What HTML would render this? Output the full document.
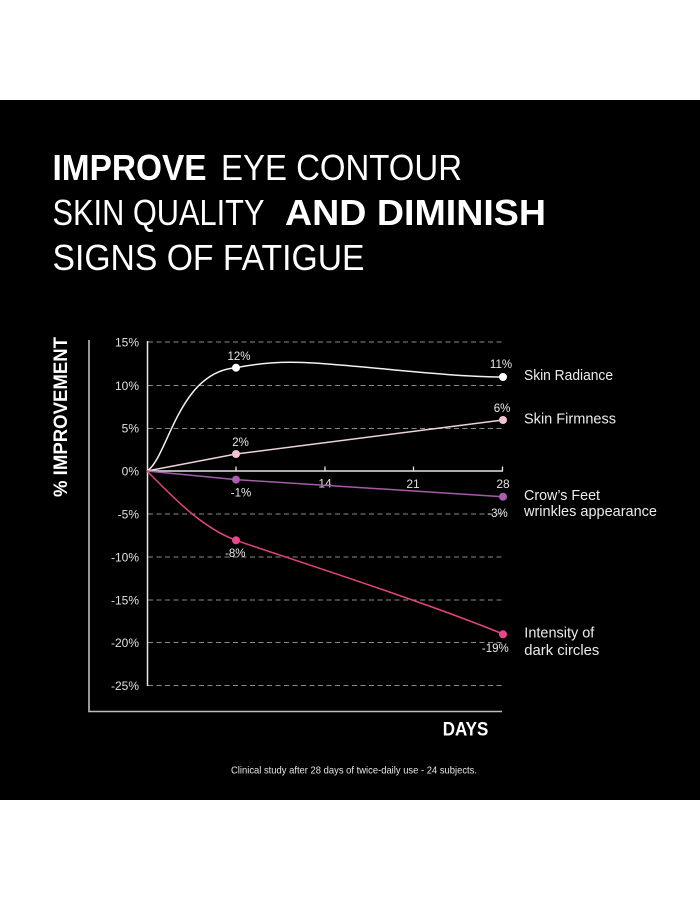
<!DOCTYPE html>
<html><head><meta charset="utf-8"><style>
html,body{margin:0;padding:0;background:#fff;}
svg{display:block;}
text{font-family:"Liberation Sans",Arial,sans-serif;}
</style></head><body>
<svg width="700" height="900" viewBox="0 0 700 900" xmlns="http://www.w3.org/2000/svg">
<rect x="0" y="0" width="700" height="900" fill="#fff"/>
<rect x="0" y="100" width="700" height="700" fill="#000"/>

<!-- Title -->
<g fill="#fff" font-size="36">
<text x="52.5" y="180" font-weight="bold" textLength="154" lengthAdjust="spacingAndGlyphs">IMPROVE</text>
<text x="221" y="180" textLength="241" lengthAdjust="spacingAndGlyphs">EYE CONTOUR</text>
<text x="52.5" y="225" textLength="212" lengthAdjust="spacingAndGlyphs">SKIN QUALITY</text>
<text x="285" y="225" font-weight="bold" textLength="261" lengthAdjust="spacingAndGlyphs">AND DIMINISH</text>
<text x="52.5" y="270" textLength="312" lengthAdjust="spacingAndGlyphs">SIGNS OF FATIGUE</text>
</g>

<!-- Y axis title -->
<text transform="translate(67,417) rotate(-90)" text-anchor="middle" fill="#fff" font-size="19" font-weight="bold" textLength="160" lengthAdjust="spacingAndGlyphs">% IMPROVEMENT</text>

<!-- frame -->
<path d="M89,340 V711.5 H502" fill="none" stroke="#bdbdbd" stroke-width="1.6"/>

<!-- gridlines -->
<g stroke="#8a8a8a" stroke-width="1" stroke-dasharray="5,3.5" fill="none">
<line x1="148" y1="342" x2="502" y2="342"/>
<line x1="148" y1="385.5" x2="502" y2="385.5"/>
<line x1="148" y1="428.5" x2="502" y2="428.5"/>
<line x1="148" y1="514" x2="502" y2="514"/>
<line x1="148" y1="557" x2="502" y2="557"/>
<line x1="148" y1="600" x2="502" y2="600"/>
<line x1="148" y1="642.5" x2="502" y2="642.5"/>
<line x1="148" y1="685.5" x2="502" y2="685.5"/>
</g>

<!-- axes -->
<line x1="147.5" y1="341" x2="147.5" y2="686" stroke="#e6e6e6" stroke-width="1.5"/>
<line x1="147" y1="471" x2="503" y2="471" stroke="#e6e6e6" stroke-width="1.5"/>
<g stroke="#e6e6e6" stroke-width="1.3">
<line x1="236" y1="471" x2="236" y2="466.5"/>
<line x1="325" y1="471" x2="325" y2="466.5"/>
<line x1="413.5" y1="471" x2="413.5" y2="466.5"/>
<line x1="502.5" y1="471" x2="502.5" y2="466.5"/>
</g>

<!-- y tick labels -->
<g fill="#e0e0e0" font-size="12" text-anchor="end">
<text x="139" y="346.5">15%</text>
<text x="139" y="390">10%</text>
<text x="139" y="432.5">5%</text>
<text x="139" y="475.5">0%</text>
<text x="139" y="518.5">-5%</text>
<text x="139" y="561.5">-10%</text>
<text x="139" y="604.5">-15%</text>
<text x="139" y="647">-20%</text>
<text x="139" y="690">-25%</text>
</g>

<!-- x tick labels -->
<g fill="#e0e0e0" font-size="12" text-anchor="middle">
<text x="325" y="487.5">14</text>
<text x="413" y="488">21</text>
<text x="503" y="488">28</text>
</g>

<!-- Skin Radiance -->
<path d="M147,471 C168,458 178,372 236,367.7 C255,364 270,362.3 290,362.3 C340,362.3 440,377 503,377" fill="none" stroke="#f2f2f2" stroke-width="1.5"/>
<circle cx="236" cy="367.7" r="4" fill="#fff"/>
<circle cx="503" cy="377" r="4" fill="#fff"/>

<!-- Skin Firmness -->
<polyline points="147,471 236,454 503,420" fill="none" stroke="#ecd3da" stroke-width="1.5"/>
<circle cx="236" cy="454" r="4" fill="#f2c3d2"/>
<circle cx="503" cy="420" r="4" fill="#f2c3d2"/>

<!-- Crow's feet -->
<polyline points="147,471 236,479.6 503,496.7" fill="none" stroke="#a35ca8" stroke-width="1.5"/>
<circle cx="236" cy="479.6" r="4" fill="#a95ead"/>
<circle cx="503" cy="496.7" r="4" fill="#a95ead"/>

<!-- Dark circles -->
<path d="M147,471 C170,494 200,527 236,540.3 C278,555 420,600 503,634" fill="none" stroke="#e2457c" stroke-width="1.5"/>
<circle cx="236" cy="540.3" r="4" fill="#e8478a"/>
<circle cx="503" cy="634.3" r="4" fill="#e8478a"/>

<!-- value labels -->
<g fill="#e8e8e8" font-size="11.5" text-anchor="middle">
<text x="239" y="360">12%</text>
<text x="501" y="368">11%</text>
<text x="240.5" y="446">2%</text>
<text x="502" y="412">6%</text>
<text x="241" y="496.5">-1%</text>
<text x="497.5" y="517">-3%</text>
<text x="235.3" y="557">-8%</text>
<text x="495.3" y="652">-19%</text>
</g>

<!-- series labels -->
<g fill="#ececec" font-size="14.5">
<text x="524" y="380" textLength="89" lengthAdjust="spacingAndGlyphs">Skin Radiance</text>
<text x="524" y="423.3" textLength="92" lengthAdjust="spacingAndGlyphs">Skin Firmness</text>
<text x="524" y="500" textLength="76" lengthAdjust="spacingAndGlyphs">Crow’s Feet</text>
<text x="524" y="516" textLength="133" lengthAdjust="spacingAndGlyphs">wrinkles appearance</text>
<text x="524.3" y="637.7" textLength="70" lengthAdjust="spacingAndGlyphs">Intensity of</text>
<text x="524.3" y="655" textLength="75" lengthAdjust="spacingAndGlyphs">dark circles</text>
</g>

<!-- DAYS -->
<text x="442.7" y="735.7" fill="#fff" font-size="19" font-weight="bold" textLength="45.6" lengthAdjust="spacingAndGlyphs">DAYS</text>

<!-- footnote -->
<text x="231" y="773.5" fill="#e6e6e6" font-size="10.5" textLength="246" lengthAdjust="spacingAndGlyphs">Clinical study after 28 days of twice-daily use - 24 subjects.</text>
</svg>
</body></html>
